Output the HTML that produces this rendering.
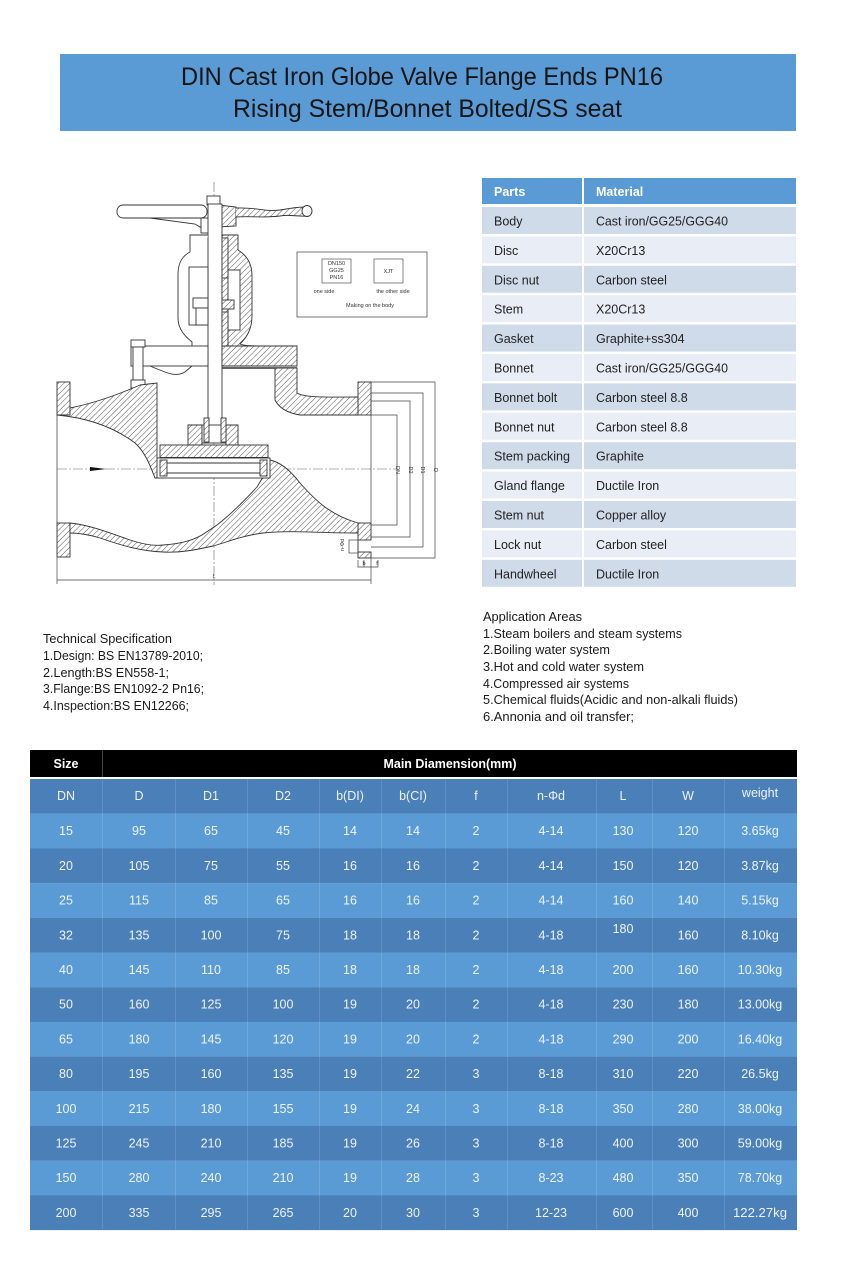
<!DOCTYPE html>
<html>
<head>
<meta charset="utf-8">
<style>
html,body{margin:0;padding:0;background:#fff;}
svg{display:block;}
text{font-family:"Liberation Sans",sans-serif;}
</style>
</head>
<body>
<svg width="842" height="1280" viewBox="0 0 842 1280" xmlns="http://www.w3.org/2000/svg">
<defs>
<pattern id="h" width="4" height="4" patternUnits="userSpaceOnUse" patternTransform="rotate(45)">
<rect width="4" height="4" fill="#fff"/>
<line x1="0" y1="0" x2="0" y2="4" stroke="#555" stroke-width="1"/>
</pattern>
</defs>
<rect width="842" height="1280" fill="#fff"/>

<!-- Title bar -->
<rect x="60" y="54" width="736" height="77" fill="#5b9bd5"/>
<text x="181" y="85" font-size="25" fill="#151515" textLength="482" lengthAdjust="spacingAndGlyphs">DIN Cast Iron Globe Valve Flange Ends PN16</text>
<text x="233" y="117" font-size="25" fill="#151515" textLength="389" lengthAdjust="spacingAndGlyphs">Rising Stem/Bonnet Bolted/SS seat</text>

<!-- Drawing -->
<g stroke="#333" stroke-width="0.9" fill="none">
  <line x1="214" y1="182" x2="214" y2="585" stroke="#666" stroke-width="0.6" stroke-dasharray="10 2 2 2"/>
  <line x1="57" y1="469" x2="397" y2="469" stroke="#666" stroke-width="0.6" stroke-dasharray="10 2 2 2"/>
  <polygon points="90,467 106,469 90,471" fill="#111" stroke="none"/>

  <!-- handwheel -->
  <rect x="117" y="205" width="90" height="13" rx="6" fill="#fff"/>
  <path d="M150,218 L195,224 L200,227 L216,227 L216,218" />
  <rect x="201" y="218" width="14" height="15" fill="#fff"/>
  <rect x="207" y="196" width="13" height="9" fill="#fff"/>
  <path d="M218,205 L236,207 L236,226 L218,227 Z" fill="url(#h)"/>
  <path d="M236,208 C255,207 265,212 280,210 C292,208 298,207 306,207 C312,207 313,215 307,216 C298,217 290,214 280,216 C265,218 250,216 236,217" fill="url(#h)"/>
  <ellipse cx="307" cy="211" rx="5" ry="5.5" fill="#fff"/>

  <!-- stem -->
  <rect x="208" y="204" width="14" height="236" fill="#fff"/>

  <!-- yoke left -->
  <path d="M208,235 L190,235 L190,252 C182,256 178,264 178,274 L178,318 C178,330 186,337 192,342 L192,348" fill="#fff"/>
  <rect x="189" y="267" width="19" height="58" fill="#fff"/>
  <rect x="193" y="298" width="15" height="10" fill="#fff"/>
  <rect x="196" y="308" width="12" height="17" fill="#fff"/>
  <!-- yoke right -->
  <path d="M222,235 L238,235 L238,250 C248,256 252,265 252,276 L252,316 C252,330 246,338 240,344 C245,346 255,346 267,346 L222,346 Z" fill="url(#h)"/>
  <rect x="228" y="270" width="12" height="60" fill="#fff"/>
  <rect x="222" y="238" width="6" height="40" fill="url(#h)"/>
  <rect x="222" y="300" width="12" height="9" fill="url(#h)"/>
  <rect x="222" y="312" width="6" height="34" fill="url(#h)"/>

  <!-- bonnet -->
  <rect x="131" y="346" width="77" height="20" fill="#fff"/>
  <path d="M150,366 C165,372 175,378 185,372 L192,366"/>
  <path d="M222,346 L297,346 L297,366 L222,366 Z" fill="url(#h)"/>
  <line x1="222" y1="368" x2="297" y2="368" stroke-width="1.4"/>
  <rect x="131" y="340" width="14" height="7" fill="#fff"/>
  <rect x="133" y="347" width="10" height="33" fill="#fff"/>
  <rect x="131" y="380" width="14" height="8" fill="#fff"/>

  <!-- flanges -->
  <rect x="57" y="382" width="13" height="33" fill="url(#h)"/>
  <rect x="57" y="523" width="13" height="34" fill="url(#h)"/>
  <rect x="358" y="382" width="13" height="33" fill="url(#h)"/>
  <rect x="358" y="523" width="13" height="17" fill="url(#h)"/>
  <rect x="358" y="552" width="13" height="6" fill="url(#h)"/>
  <line x1="358" y1="540" x2="358" y2="552"/>
  <line x1="57" y1="415" x2="57" y2="523" stroke-width="0.7"/>
  <line x1="371" y1="415" x2="371" y2="523" stroke-width="0.7"/>

  <path d="M57,415 L70,415 L70,408 C90,404 115,396 140,385 L157,383 L157,458 L163,460 L163,478 L155,478 C150,465 145,452 135,443 C115,428 90,418 57,415 Z" fill="url(#h)"/>
  <path d="M275,368 L297,368 L297,393 C305,398 330,397 358,397 L358,415 L300,415 C288,413 279,408 275,400 Z" fill="url(#h)"/>

  <path d="M70,523 C90,525 110,533 130,540 C145,545 155,546 163,545 C180,544 195,540 205,533 L217,525 C230,515 245,500 257,487 L266,472 L270,460 C280,462 290,470 300,483 C315,500 330,515 358,523 L358,533 C320,533 290,530 263,533 C240,536 225,543 213,546 C195,550 180,553 163,552 C140,551 120,545 100,538 C90,535 80,533 70,533 Z" fill="url(#h)"/>

  <!-- disc nut -->
  <path d="M188,425 L202,425 L202,445 L188,445 Z" fill="url(#h)"/>
  <path d="M226,425 L238,425 L238,445 L226,445 Z" fill="url(#h)"/>
  <rect x="202" y="425" width="24" height="18" fill="#fff"/>
  <rect x="204" y="418" width="5" height="24" fill="url(#h)"/>
  <rect x="221" y="418" width="5" height="24" fill="url(#h)"/>
  <rect x="160" y="445" width="108" height="13" fill="url(#h)"/>
  <line x1="160" y1="458" x2="268" y2="458" stroke-width="2"/>
  <rect x="157" y="458" width="113" height="20" fill="#fff"/>
  <line x1="167" y1="463" x2="260" y2="463"/>
  <line x1="167" y1="473" x2="260" y2="473"/>
  <rect x="160" y="460" width="7" height="16" fill="url(#h)"/>
  <rect x="260" y="460" width="7" height="16" fill="url(#h)"/>

  <g stroke="#444" stroke-width="0.7">
    <polyline points="371,382 435,382 435,558 371,558"/>
    <polyline points="371,393 423,393 423,547 371,547"/>
    <polyline points="371,401 410,401 410,537 371,537"/>
    <polyline points="371,415 397,415 397,525 371,525"/>
    <line x1="57" y1="557" x2="57" y2="584"/>
    <line x1="371" y1="558" x2="371" y2="584"/>
    <line x1="57" y1="580" x2="371" y2="580"/>
    <rect x="349" y="540" width="9" height="13"/>
    <polyline points="358,560 358,567 378,567 378,560"/>
    <line x1="364" y1="560" x2="364" y2="567"/>
  </g>

  <rect x="297" y="252" width="130" height="65" stroke="#555" stroke-width="0.8"/>
  <rect x="322" y="259" width="29" height="24" stroke="#555" stroke-width="0.7"/>
  <rect x="374" y="259" width="29" height="24" stroke="#555" stroke-width="0.7"/>
</g>
<g fill="#333" font-size="5.5" text-anchor="middle">
  <text x="336.5" y="265">DN150</text>
  <text x="336.5" y="272">GG25</text>
  <text x="336.5" y="279">PN16</text>
  <text x="388.5" y="273">XJT</text>
  <text x="324" y="293">one side</text>
  <text x="393" y="293">the other side</text>
  <text x="370" y="307">Making on the body</text>
  <text x="364" y="565">b</text>
  <text x="377" y="565">f</text>
  <text x="214" y="578">L</text>
  <text transform="translate(396,470) rotate(90)">DN</text>
  <text transform="translate(409,470) rotate(90)">D2</text>
  <text transform="translate(421,470) rotate(90)">D1</text>
  <text transform="translate(434,470) rotate(90)">D</text>
  <text transform="translate(344,545) rotate(-90)">n-Φd</text>
</g>

<!-- Parts table -->
<rect x="482" y="178" width="100" height="26" fill="#5b9bd5"/>
<rect x="584" y="178" width="212" height="26" fill="#5b9bd5"/>
<text x="494" y="196" font-size="12.5" font-weight="bold" fill="#fff">Parts</text>
<text x="596" y="196" font-size="12.5" font-weight="bold" fill="#fff">Material</text>
<g>
  <rect x="482" y="207" width="100" height="27" fill="#d0dbea"/><rect x="584" y="207" width="212" height="27" fill="#d0dbea"/>
  <rect x="482" y="236.4" width="100" height="27" fill="#e9eef6"/><rect x="584" y="236.4" width="212" height="27" fill="#e9eef6"/>
  <rect x="482" y="265.8" width="100" height="27" fill="#d0dbea"/><rect x="584" y="265.8" width="212" height="27" fill="#d0dbea"/>
  <rect x="482" y="295.2" width="100" height="27" fill="#e9eef6"/><rect x="584" y="295.2" width="212" height="27" fill="#e9eef6"/>
  <rect x="482" y="324.6" width="100" height="27" fill="#d0dbea"/><rect x="584" y="324.6" width="212" height="27" fill="#d0dbea"/>
  <rect x="482" y="354" width="100" height="27" fill="#e9eef6"/><rect x="584" y="354" width="212" height="27" fill="#e9eef6"/>
  <rect x="482" y="383.4" width="100" height="27" fill="#d0dbea"/><rect x="584" y="383.4" width="212" height="27" fill="#d0dbea"/>
  <rect x="482" y="412.8" width="100" height="27" fill="#e9eef6"/><rect x="584" y="412.8" width="212" height="27" fill="#e9eef6"/>
  <rect x="482" y="442.2" width="100" height="27" fill="#d0dbea"/><rect x="584" y="442.2" width="212" height="27" fill="#d0dbea"/>
  <rect x="482" y="471.6" width="100" height="27" fill="#e9eef6"/><rect x="584" y="471.6" width="212" height="27" fill="#e9eef6"/>
  <rect x="482" y="501" width="100" height="27" fill="#d0dbea"/><rect x="584" y="501" width="212" height="27" fill="#d0dbea"/>
  <rect x="482" y="530.4" width="100" height="27" fill="#e9eef6"/><rect x="584" y="530.4" width="212" height="27" fill="#e9eef6"/>
  <rect x="482" y="559.8" width="100" height="27" fill="#d0dbea"/><rect x="584" y="559.8" width="212" height="27" fill="#d0dbea"/>
</g>
<g font-size="12.5" fill="#222">
  <text x="494" y="225.5">Body</text><text x="596" y="225.5" textLength="132" lengthAdjust="spacingAndGlyphs">Cast iron/GG25/GGG40</text>
  <text x="494" y="254.9">Disc</text><text x="596" y="254.9">X20Cr13</text>
  <text x="494" y="284.3">Disc nut</text><text x="596" y="284.3">Carbon steel</text>
  <text x="494" y="313.7">Stem</text><text x="596" y="313.7">X20Cr13</text>
  <text x="494" y="343.1">Gasket</text><text x="596" y="343.1">Graphite+ss304</text>
  <text x="494" y="372.5">Bonnet</text><text x="596" y="372.5" textLength="132" lengthAdjust="spacingAndGlyphs">Cast iron/GG25/GGG40</text>
  <text x="494" y="401.9">Bonnet bolt</text><text x="596" y="401.9">Carbon steel 8.8</text>
  <text x="494" y="431.3">Bonnet nut</text><text x="596" y="431.3">Carbon steel 8.8</text>
  <text x="494" y="460.7" textLength="76" lengthAdjust="spacingAndGlyphs">Stem packing</text><text x="596" y="460.7">Graphite</text>
  <text x="494" y="490.1">Gland flange</text><text x="596" y="490.1">Ductile Iron</text>
  <text x="494" y="519.5">Stem nut</text><text x="596" y="519.5">Copper alloy</text>
  <text x="494" y="548.9">Lock nut</text><text x="596" y="548.9">Carbon steel</text>
  <text x="494" y="578.3">Handwheel</text><text x="596" y="578.3">Ductile Iron</text>
</g>

<g font-size="12.5" fill="#1a1a1a">
  <text x="43" y="643" textLength="129" lengthAdjust="spacingAndGlyphs">Technical Specification</text>
  <text x="43" y="660" textLength="160" lengthAdjust="spacingAndGlyphs">1.Design: BS EN13789-2010;</text>
  <text x="43" y="677" textLength="126" lengthAdjust="spacingAndGlyphs">2.Length:BS EN558-1;</text>
  <text x="43" y="693" textLength="161" lengthAdjust="spacingAndGlyphs">3.Flange:BS EN1092-2 Pn16;</text>
  <text x="43" y="710" textLength="146" lengthAdjust="spacingAndGlyphs">4.Inspection:BS EN12266;</text>
</g>
<g font-size="12.5" fill="#1a1a1a">
  <text x="483" y="621" textLength="99" lengthAdjust="spacingAndGlyphs">Application Areas</text>
  <text x="483" y="638" textLength="199" lengthAdjust="spacingAndGlyphs">1.Steam boilers and steam systems</text>
  <text x="483" y="654" textLength="127" lengthAdjust="spacingAndGlyphs">2.Boiling water system</text>
  <text x="483" y="671" textLength="161" lengthAdjust="spacingAndGlyphs">3.Hot and cold water system</text>
  <text x="483" y="688" textLength="146" lengthAdjust="spacingAndGlyphs">4.Compressed air systems</text>
  <text x="483" y="704" textLength="255" lengthAdjust="spacingAndGlyphs">5.Chemical fluids(Acidic and non-alkali fluids)</text>
  <text x="483" y="721" textLength="151" lengthAdjust="spacingAndGlyphs">6.Annonia and oil transfer;</text>
</g>

<rect x="30" y="750" width="767" height="27" fill="#000"/>
<line x1="102.5" y1="750" x2="102.5" y2="777" stroke="#444" stroke-width="1"/>
<text x="66" y="768" font-size="12.5" font-weight="bold" fill="#fff" text-anchor="middle">Size</text>
<text x="450" y="768" font-size="12.5" font-weight="bold" fill="#fff" text-anchor="middle" textLength="133" lengthAdjust="spacingAndGlyphs">Main Diamension(mm)</text>

<g>
  <rect x="30" y="779" width="767" height="34.8" fill="#4a7fb8"/>
  <rect x="30" y="813.7" width="767" height="34.8" fill="#5b9bd5"/>
  <rect x="30" y="848.4" width="767" height="34.8" fill="#4a7fb8"/>
  <rect x="30" y="883.1" width="767" height="34.8" fill="#5b9bd5"/>
  <rect x="30" y="917.8" width="767" height="34.8" fill="#4a7fb8"/>
  <rect x="30" y="952.5" width="767" height="34.8" fill="#5b9bd5"/>
  <rect x="30" y="987.2" width="767" height="34.8" fill="#4a7fb8"/>
  <rect x="30" y="1021.9" width="767" height="34.8" fill="#5b9bd5"/>
  <rect x="30" y="1056.6" width="767" height="34.8" fill="#4a7fb8"/>
  <rect x="30" y="1091.3" width="767" height="34.8" fill="#5b9bd5"/>
  <rect x="30" y="1126" width="767" height="34.8" fill="#4a7fb8"/>
  <rect x="30" y="1160.7" width="767" height="34.8" fill="#5b9bd5"/>
  <rect x="30" y="1195.4" width="767" height="34.7" fill="#4a7fb8"/>
</g>
<g stroke="#ffffff" stroke-opacity="0.13" stroke-width="1">
  <line x1="102.5" y1="779" x2="102.5" y2="1230"/>
  <line x1="175.5" y1="779" x2="175.5" y2="1230"/>
  <line x1="247.5" y1="779" x2="247.5" y2="1230"/>
  <line x1="319.5" y1="779" x2="319.5" y2="1230"/>
  <line x1="381.5" y1="779" x2="381.5" y2="1230"/>
  <line x1="445.5" y1="779" x2="445.5" y2="1230"/>
  <line x1="507.5" y1="779" x2="507.5" y2="1230"/>
  <line x1="596.5" y1="779" x2="596.5" y2="1230"/>
  <line x1="652.5" y1="779" x2="652.5" y2="1230"/>
  <line x1="724.5" y1="779" x2="724.5" y2="1230"/>
</g>

<g font-size="12.5" fill="#eef3fa" text-anchor="middle">
  <text x="66" y="800">DN</text><text x="139" y="800">D</text><text x="211" y="800">D1</text><text x="283" y="800">D2</text><text x="350" y="800">b(DI)</text><text x="413" y="800">b(CI)</text><text x="476" y="800">f</text><text x="551" y="800">n-Φd</text><text x="623" y="800">L</text><text x="688" y="800">W</text><text x="760" y="797">weight</text>

  <text x="66" y="835">15</text><text x="139" y="835">95</text><text x="211" y="835">65</text><text x="283" y="835">45</text><text x="350" y="835">14</text><text x="413" y="835">14</text><text x="476" y="835">2</text><text x="551" y="835">4-14</text><text x="623" y="835">130</text><text x="688" y="835">120</text><text x="760" y="835">3.65kg</text>

  <text x="66" y="870">20</text><text x="139" y="870">105</text><text x="211" y="870">75</text><text x="283" y="870">55</text><text x="350" y="870">16</text><text x="413" y="870">16</text><text x="476" y="870">2</text><text x="551" y="870">4-14</text><text x="623" y="870">150</text><text x="688" y="870">120</text><text x="760" y="870">3.87kg</text>

  <text x="66" y="904.6">25</text><text x="139" y="904.6">115</text><text x="211" y="904.6">85</text><text x="283" y="904.6">65</text><text x="350" y="904.6">16</text><text x="413" y="904.6">16</text><text x="476" y="904.6">2</text><text x="551" y="904.6">4-14</text><text x="623" y="904.6">160</text><text x="688" y="904.6">140</text><text x="760" y="904.6">5.15kg</text>

  <text x="66" y="939.3">32</text><text x="139" y="939.3">135</text><text x="211" y="939.3">100</text><text x="283" y="939.3">75</text><text x="350" y="939.3">18</text><text x="413" y="939.3">18</text><text x="476" y="939.3">2</text><text x="551" y="939.3">4-18</text><text x="623" y="933">180</text><text x="688" y="939.3">160</text><text x="760" y="939.3">8.10kg</text>

  <text x="66" y="974">40</text><text x="139" y="974">145</text><text x="211" y="974">110</text><text x="283" y="974">85</text><text x="350" y="974">18</text><text x="413" y="974">18</text><text x="476" y="974">2</text><text x="551" y="974">4-18</text><text x="623" y="974">200</text><text x="688" y="974">160</text><text x="760" y="974">10.30kg</text>

  <text x="66" y="1008.7">50</text><text x="139" y="1008.7">160</text><text x="211" y="1008.7">125</text><text x="283" y="1008.7">100</text><text x="350" y="1008.7">19</text><text x="413" y="1008.7">20</text><text x="476" y="1008.7">2</text><text x="551" y="1008.7">4-18</text><text x="623" y="1008.7">230</text><text x="688" y="1008.7">180</text><text x="760" y="1008.7">13.00kg</text>

  <text x="66" y="1043.4">65</text><text x="139" y="1043.4">180</text><text x="211" y="1043.4">145</text><text x="283" y="1043.4">120</text><text x="350" y="1043.4">19</text><text x="413" y="1043.4">20</text><text x="476" y="1043.4">2</text><text x="551" y="1043.4">4-18</text><text x="623" y="1043.4">290</text><text x="688" y="1043.4">200</text><text x="760" y="1043.4">16.40kg</text>

  <text x="66" y="1078.1">80</text><text x="139" y="1078.1">195</text><text x="211" y="1078.1">160</text><text x="283" y="1078.1">135</text><text x="350" y="1078.1">19</text><text x="413" y="1078.1">22</text><text x="476" y="1078.1">3</text><text x="551" y="1078.1">8-18</text><text x="623" y="1078.1">310</text><text x="688" y="1078.1">220</text><text x="760" y="1078.1">26.5kg</text>

  <text x="66" y="1112.8">100</text><text x="139" y="1112.8">215</text><text x="211" y="1112.8">180</text><text x="283" y="1112.8">155</text><text x="350" y="1112.8">19</text><text x="413" y="1112.8">24</text><text x="476" y="1112.8">3</text><text x="551" y="1112.8">8-18</text><text x="623" y="1112.8">350</text><text x="688" y="1112.8">280</text><text x="760" y="1112.8">38.00kg</text>

  <text x="66" y="1147.5">125</text><text x="139" y="1147.5">245</text><text x="211" y="1147.5">210</text><text x="283" y="1147.5">185</text><text x="350" y="1147.5">19</text><text x="413" y="1147.5">26</text><text x="476" y="1147.5">3</text><text x="551" y="1147.5">8-18</text><text x="623" y="1147.5">400</text><text x="688" y="1147.5">300</text><text x="760" y="1147.5">59.00kg</text>

  <text x="66" y="1182.2">150</text><text x="139" y="1182.2">280</text><text x="211" y="1182.2">240</text><text x="283" y="1182.2">210</text><text x="350" y="1182.2">19</text><text x="413" y="1182.2">28</text><text x="476" y="1182.2">3</text><text x="551" y="1182.2">8-23</text><text x="623" y="1182.2">480</text><text x="688" y="1182.2">350</text><text x="760" y="1182.2">78.70kg</text>

  <text x="66" y="1216.9">200</text><text x="139" y="1216.9">335</text><text x="211" y="1216.9">295</text><text x="283" y="1216.9">265</text><text x="350" y="1216.9">20</text><text x="413" y="1216.9">30</text><text x="476" y="1216.9">3</text><text x="551" y="1216.9">12-23</text><text x="623" y="1216.9">600</text><text x="688" y="1216.9">400</text><text x="760" y="1216.9" textLength="54" lengthAdjust="spacingAndGlyphs">122.27kg</text>
</g>
</svg>
</body>
</html>
